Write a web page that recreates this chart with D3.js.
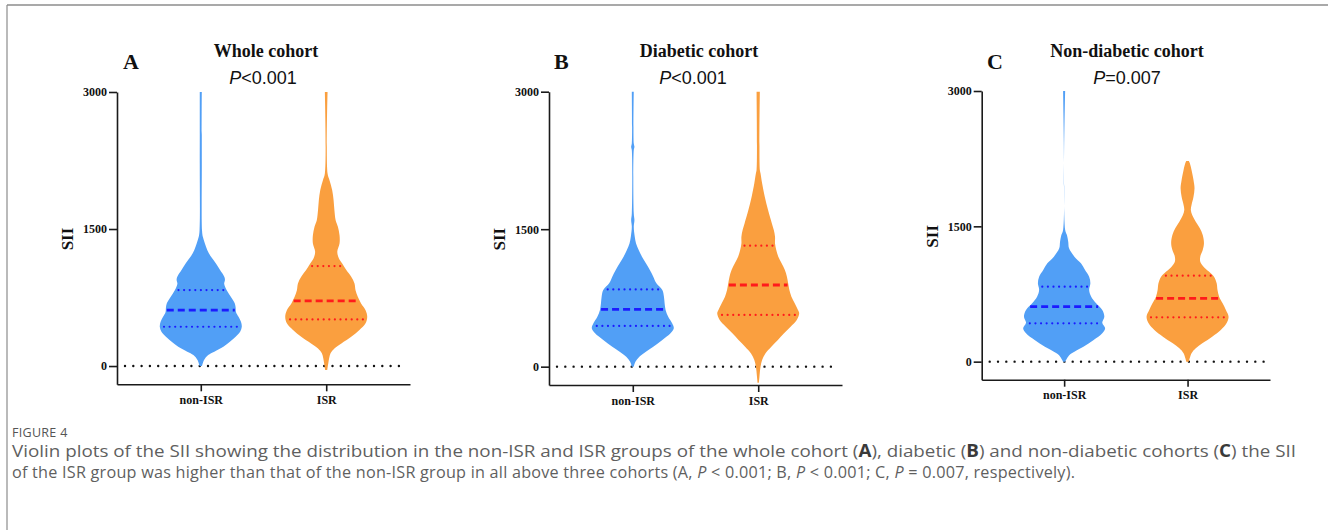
<!DOCTYPE html>
<html>
<head>
<meta charset="utf-8">
<script src="https://cdn.jsdelivr.net/npm/d3@7"></script>
<style>
  body { margin: 0; background: #fff; }
  svg { display: block; }
</style>
</head>
<body>
<svg id="fig" width="1328" height="530"></svg>
<script>
// ---- data ----------------------------------------------------------------
const cohortTitles = ["Whole cohort", "Diabetic cohort", "Non-diabetic cohort"];
const panelLetters = ["A", "B", "C"];
const pSigns = ["<0.001", "<0.001", "=0.007"];
const groups = ["non-ISR", "ISR"];
const yTickValues = [0, 1500, 3000];

// kernel density outlines: [SII, density relative to the violin's maximum]
const densityA_nonISR = [[3000,0.025],[2216,0.025],[1487,0.03],[1414,0.05],[1341,0.1],[1268,0.16],[1196,0.25],[1123,0.37],[1050,0.47],[980,0.57],[945,0.59],[900,0.57],[860,0.6],[795,0.68],[740,0.76],[685,0.83],[640,0.85],[590,0.86],[539,0.92],[485,0.98],[430,1.0],[375,0.96],[321,0.85],[266,0.71],[211,0.55],[157,0.33],[120,0.18],[66,0.08],[0,0.03]];
const densityA_ISR = [[3000,0.033],[2107,0.033],[2034,0.08],[1925,0.146],[1815,0.18],[1706,0.2],[1597,0.23],[1524,0.285],[1432,0.325],[1341,0.325],[1250,0.27],[1177,0.31],[1123,0.39],[1050,0.49],[977,0.61],[904,0.69],[831,0.715],[758,0.77],[685,0.85],[612,0.96],[539,1.0],[467,0.96],[394,0.81],[321,0.61],[248,0.37],[193,0.2],[139,0.106],[29,0.05],[-44,0.025]];
const densityB_nonISR = [[3000,0.024],[2436,0.024],[2400,0.04],[2363,0.024],[1672,0.024],[1600,0.04],[1527,0.024],[1418,0.048],[1345,0.08],[1273,0.144],[1200,0.224],[1127,0.32],[1054,0.416],[982,0.5],[909,0.576],[836,0.72],[764,0.76],[691,0.776],[618,0.8],[545,0.864],[473,0.96],[418,1.0],[364,0.92],[291,0.72],[218,0.5],[164,0.32],[109,0.16],[55,0.064],[0,0.024]];
const densityB_ISR = [[3000,0.04],[2145,0.04],[2109,0.056],[2000,0.095],[1854,0.16],[1709,0.24],[1563,0.333],[1491,0.38],[1418,0.41],[1345,0.41],[1273,0.44],[1200,0.49],[1127,0.57],[1054,0.65],[982,0.7],[909,0.73],[836,0.76],[764,0.81],[691,0.89],[618,0.97],[582,1.0],[509,0.94],[436,0.79],[364,0.63],[291,0.48],[218,0.32],[145,0.175],[73,0.095],[0,0.056],[-109,0.03],[-175,0.016]];
const densityC_nonISR = [[3000,0.025],[1460,0.025],[1404,0.068],[1330,0.1],[1256,0.12],[1164,0.25],[1090,0.41],[1016,0.51],[942,0.61],[868,0.64],[794,0.61],[720,0.66],[647,0.78],[573,0.93],[499,0.98],[432,0.93],[370,1.0],[314,0.93],[240,0.72],[166,0.47],[111,0.25],[74,0.13],[0,0.025]];
const densityC_ISR = [[2224,0.032],[2199,0.056],[2125,0.097],[2014,0.145],[1921,0.17],[1829,0.145],[1737,0.097],[1681,0.08],[1626,0.113],[1552,0.2],[1478,0.3],[1404,0.37],[1312,0.4],[1238,0.37],[1164,0.31],[1108,0.31],[1053,0.39],[998,0.52],[942,0.645],[868,0.71],[794,0.73],[720,0.77],[647,0.855],[573,0.935],[499,1.0],[425,0.95],[351,0.81],[277,0.6],[203,0.36],[148,0.2],[92,0.097],[0,0.032]];

// quartiles: [Q1, median, Q3]
const quartA_nonISR = [430, 612, 831];
const quartA_ISR = [510, 714, 1094];
const quartB_nonISR = [444, 625, 843];
const quartB_ISR = [564, 891, 1320];
const quartC_nonISR = [425, 610, 831];
const quartC_ISR = [491, 702, 953];

// ---- drawing ---------------------------------------------------------------
const densities = [[densityA_nonISR, densityA_ISR], [densityB_nonISR, densityB_ISR], [densityC_nonISR, densityC_ISR]];
const quartiles = [[quartA_nonISR, quartA_ISR], [quartB_nonISR, quartB_ISR], [quartC_nonISR, quartC_ISR]];

const fillColors = ["#519ff6", "#fa9f3f"];
const lineColors = ["#1b1bff", "#ff1b1b"];
const serif = "'Liberation Serif', 'Times New Roman', serif";
const sans = "'Liberation Sans', Arial, sans-serif";

// panel frames: y axis x, plot right end, y of 3000 and of -200
const frames = [
  { left: 117,   right: 410,  top: 92,   bottom: 384.3, labelX: 67,  titleX: 266,  pX: 263,  letterX: 123 },
  { left: 549,   right: 842,  top: 91.7, bottom: 385,   labelX: 499, titleX: 699,  pX: 693,  letterX: 554 },
  { left: 981.7, right: 1270, top: 91,   bottom: 379.7, labelX: 932, titleX: 1127, pX: 1127, letterX: 987 }
];

const svg = d3.select("#fig");

// outer page frame
svg.append("line").attr("x1", 7).attr("x2", 1328).attr("y1", 5).attr("y2", 5)
  .attr("stroke", "#8c8c8c").attr("stroke-width", 1.6);
svg.append("line").attr("x1", 7).attr("x2", 7).attr("y1", 5).attr("y2", 530)
  .attr("stroke", "#8c8c8c").attr("stroke-width", 1.2);

function interpDensity(profile, v) {
  for (let i = 0; i < profile.length - 1; i++) {
    const a = profile[i], b = profile[i + 1];
    if (v <= a[0] && v >= b[0]) {
      const t = (a[0] - v) / (a[0] - b[0]);
      return a[1] + t * (b[1] - a[1]);
    }
  }
  return 0;
}

frames.forEach((f, pi) => {
  const g = svg.append("g");
  const y = d3.scaleLinear().domain([-200, 3000]).range([f.bottom, f.top]);
  const x = d3.scalePoint().domain(groups).range([f.left, f.right]).padding(0.668);
  const w = d3.scaleLinear().domain([0, 1]).range([0, 41]);

  // zero reference line
  g.append("line")
    .attr("x1", f.left + 8).attr("x2", f.right - 4)
    .attr("y1", y(0)).attr("y2", y(0))
    .attr("stroke", "#111").attr("stroke-width", 2.4)
    .attr("stroke-linecap", "round").attr("stroke-dasharray", "0 8.3");

  groups.forEach((grp, gi) => {
    const cx = x(grp);
    const prof = densities[pi][gi];
    const area = d3.area()
      .curve(d3.curveCatmullRom.alpha(0.5))
      .y(d => y(d[0]))
      .x0(d => cx - w(d[1]))
      .x1(d => cx + w(d[1]));
    g.append("path").datum(prof).attr("d", area).attr("fill", fillColors[gi]);

    const q = quartiles[pi][gi];
    q.forEach((v, qi) => {
      const hw = w(interpDensity(prof, v)) * 0.97;
      const isMedian = qi === 1;
      g.append("line")
        .attr("x1", cx - hw + (isMedian ? 0 : 3)).attr("x2", cx + hw)
        .attr("y1", y(v)).attr("y2", y(v))
        .attr("stroke", lineColors[gi])
        .attr("stroke-width", isMedian ? 2.8 : 2.2)
        .attr("stroke-linecap", isMedian ? "butt" : "round")
        .attr("stroke-dasharray", isMedian ? "7 4" : "0 5.6");
    });
  });

  // y axis
  const yAxis = g.append("g").attr("transform", `translate(${f.left},0)`)
    .call(d3.axisLeft(y).tickValues(yTickValues).tickSize(8).tickSizeOuter(0).tickPadding(2).tickFormat(d3.format("d")));
  yAxis.select(".domain").attr("stroke", "#1a1a1a").attr("stroke-width", 1.6);
  yAxis.selectAll(".tick line").attr("stroke", "#1a1a1a").attr("stroke-width", 1.6);
  yAxis.selectAll(".tick text").attr("font-family", serif).attr("font-weight", "bold")
    .attr("font-size", 12).attr("fill", "#111");

  // x axis
  const xAxis = g.append("g").attr("transform", `translate(0,${f.bottom})`)
    .call(d3.axisBottom(x).tickSize(7).tickSizeOuter(0).tickPadding(4));
  xAxis.select(".domain").attr("stroke", "#1a1a1a").attr("stroke-width", 1.6);
  xAxis.selectAll(".tick line").attr("stroke", "#1a1a1a").attr("stroke-width", 1.6);
  xAxis.selectAll(".tick text").attr("font-family", serif).attr("font-weight", "bold")
    .attr("font-size", 12).attr("fill", "#111");

  // y label
  g.append("text")
    .attr("transform", `translate(${f.labelX},${(y(0) + y(3000)) / 2 + 10}) rotate(-90)`)
    .attr("text-anchor", "middle").attr("dominant-baseline", "central")
    .attr("font-family", serif).attr("font-weight", "bold").attr("font-size", 17)
    .attr("fill", "#111").text("SII");

  // titles
  g.append("text").attr("x", f.titleX).attr("y", 57).attr("text-anchor", "middle")
    .attr("font-family", serif).attr("font-weight", "bold").attr("font-size", 18)
    .attr("fill", "#111").text(cohortTitles[pi]);
  const p = g.append("text").attr("x", f.pX).attr("y", 84).attr("text-anchor", "middle")
    .attr("font-family", sans).attr("font-size", 18).attr("fill", "#111");
  p.append("tspan").attr("font-style", "italic").text("P");
  p.append("tspan").text(pSigns[pi]);
  g.append("text").attr("x", f.letterX).attr("y", 69)
    .attr("font-family", serif).attr("font-weight", "bold").attr("font-size", 22)
    .attr("fill", "#111").text(panelLetters[pi]);
});

// caption
const capFont = "'Open Sans', 'Noto Sans', sans-serif";
svg.append("text").attr("x", 12).attr("y", 437)
  .attr("font-family", capFont).attr("font-size", 12.5).attr("fill", "#555")
  .attr("letter-spacing", 0.3).text("FIGURE 4");

function captionLine(yPos, parts, len, size, adjust) {
  const t = svg.append("text").attr("x", 12).attr("y", yPos)
    .attr("font-family", capFont).attr("font-size", size).attr("fill", "#5f5f5f")
    .attr("textLength", len).attr("lengthAdjust", adjust);
  parts.forEach(([s, style]) => {
    const sp = t.append("tspan").text(s);
    if (style === "b") sp.attr("font-weight", "bold").attr("fill", "#3a3a3a");
    if (style === "i") sp.attr("font-style", "italic");
  });
}
captionLine(457, [
  ["Violin plots of the SII showing the distribution in the non-ISR and ISR groups of the whole cohort ("], ["A", "b"],
  ["), diabetic ("], ["B", "b"], [") and non-diabetic cohorts ("], ["C", "b"], [") the SII"]
], 1284, 17, "spacingAndGlyphs");
captionLine(478, [
  ["of the ISR group was higher than that of the non-ISR group in all above three cohorts (A, "], ["P", "i"],
  [" < 0.001; B, "], ["P", "i"], [" < 0.001; C, "], ["P", "i"], [" = 0.007, respectively)."]
], 1063, 16.2, "spacing");
</script>
</body>
</html>
